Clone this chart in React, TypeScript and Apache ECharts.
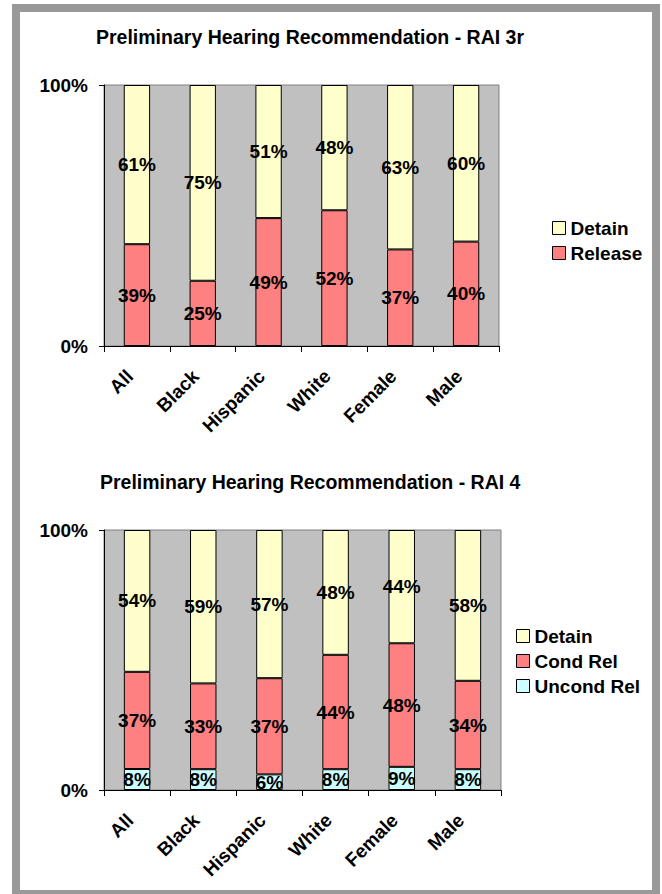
import React, { useEffect, useRef } from "react";
import * as echarts from "echarts";

// Categories shared by both panels
const categories = ["All", "Black", "Hispanic", "White", "Female", "Male"];

// RAI 3r recommendation shares (%)
const rai3Release = [39, 25, 49, 52, 37, 40];
const rai3Detain = [61, 75, 51, 48, 63, 60];

// RAI 4 recommendation shares (%)
const rai4UncondRel = [8, 8, 6, 8, 9, 8];
const rai4CondRel = [37, 33, 37, 44, 48, 34];
const rai4Detain = [54, 59, 57, 48, 44, 58];

const titles = [
  "Preliminary Hearing Recommendation - RAI 3r",
  "Preliminary Hearing Recommendation - RAI 4",
];

const COLORS = {
  detain: "#FFFFCC",
  release: "#FF8080",
  uncond: "#CCFFFF",
};

const FONT = 'Arial, "Liberation Sans", sans-serif';
const FS = 19;

// 100%-stacked: each segment's height is its share of the column total
function toShares(groups: number[][]): number[][] {
  return groups.map((g) =>
    g.map((v, i) => {
      const total = groups.reduce((s, arr) => s + arr[i], 0);
      return (v / total) * 100;
    })
  );
}

function makeSeries(
  name: string,
  raw: number[],
  shares: number[],
  color: string,
  axisIndex: number,
  stack: string
) {
  return {
    name,
    type: "bar",
    stack,
    xAxisIndex: axisIndex,
    yAxisIndex: axisIndex,
    barCategoryGap: "60%",
    data: shares.map((v, i) => ({ value: v, raw: raw[i] })),
    itemStyle: { color, borderColor: "#000", borderWidth: 1 },
    label: {
      show: true,
      position: "inside",
      color: "#000",
      fontWeight: "bold",
      fontSize: FS,
      fontFamily: FONT,
      formatter: (p: any) => `${p.data.raw}%`,
    },
  };
}

export default function App() {
  const ref = useRef<HTMLDivElement>(null);

  useEffect(() => {
    if (!ref.current) return;
    const chart = echarts.init(ref.current, null, { renderer: "svg" });

    const [s3Release, s3Detain] = toShares([rai3Release, rai3Detain]);
    const [s4Uncond, s4Cond, s4Detain] = toShares([
      rai4UncondRel,
      rai4CondRel,
      rai4Detain,
    ]);

    const xAxisBase = {
      type: "category",
      data: categories,
      axisLine: { show: true, lineStyle: { color: "#000", width: 1 } },
      axisTick: { show: true, length: 6, lineStyle: { color: "#000" } },
      axisLabel: {
        interval: 0,
        rotate: 45,
        margin: 20,
        padding: [0, 10, 0, 0],
        color: "#000",
        fontWeight: "bold",
        fontSize: FS,
        fontFamily: FONT,
      },
    };
    const yAxisBase = {
      type: "value",
      min: 0,
      max: 100,
      interval: 100,
      axisLine: { show: true, lineStyle: { color: "#000", width: 1 } },
      axisTick: { show: true, length: 5, lineStyle: { color: "#000" } },
      splitLine: { show: false },
      axisLabel: {
        margin: 16,
        color: "#000",
        fontWeight: "bold",
        fontSize: FS,
        fontFamily: FONT,
        formatter: (v: number) => `${v}%`,
      },
    };
    const gridBase = {
      show: true,
      backgroundColor: "#C0C0C0",
      borderColor: "#808080",
      borderWidth: 1,
      containLabel: false,
    };
    const legendBase = {
      orient: "vertical",
      icon: "rect",
      itemWidth: 13,
      itemHeight: 13,
      itemGap: 6,
      padding: 0,
      itemStyle: { borderColor: "#000", borderWidth: 1 },
      textStyle: {
        color: "#000",
        fontWeight: "bold",
        fontSize: FS,
        fontFamily: FONT,
      },
    };
    const titleText = {
      color: "#000",
      fontWeight: "bold",
      fontSize: 19.5,
      fontFamily: FONT,
    };

    chart.setOption({
      animation: false,
      backgroundColor: "#fff",
      title: [
        { text: titles[0], left: 96, top: 27, padding: 0, textStyle: titleText },
        { text: titles[1], left: 100, top: 472, padding: 0, textStyle: titleText },
      ],
      legend: [
        {
          ...legendBase,
          left: 552,
          top: 218.5,
          data: ["Detain", "Release"],
        },
        {
          ...legendBase,
          left: 516,
          top: 626.5,
          data: ["Detain ", "Cond Rel", "Uncond Rel"],
        },
      ],
      grid: [
        { ...gridBase, left: 104, top: 85, width: 395, height: 261 },
        { ...gridBase, left: 104, top: 530, width: 397, height: 260 },
      ],
      xAxis: [
        { ...xAxisBase, gridIndex: 0 },
        { ...xAxisBase, gridIndex: 1 },
      ],
      yAxis: [
        { ...yAxisBase, gridIndex: 0 },
        { ...yAxisBase, gridIndex: 1 },
      ],
      series: [
        makeSeries("Release", rai3Release, s3Release, COLORS.release, 0, "rai3"),
        makeSeries("Detain", rai3Detain, s3Detain, COLORS.detain, 0, "rai3"),
        makeSeries("Uncond Rel", rai4UncondRel, s4Uncond, COLORS.uncond, 1, "rai4"),
        makeSeries("Cond Rel", rai4CondRel, s4Cond, COLORS.release, 1, "rai4"),
        makeSeries("Detain ", rai4Detain, s4Detain, COLORS.detain, 1, "rai4"),
      ],
      graphic: [
        {
          type: "rect",
          shape: { x: 16, y: 8, width: 640, height: 886 },
          style: { fill: "none", stroke: "#999999", lineWidth: 8 },
          silent: true,
          z: 100,
        },
      ],
    });

    return () => chart.dispose();
  }, []);

  return (
    <div
      ref={ref}
      style={{ position: "fixed", left: 0, top: 0, width: 662, height: 894 }}
    />
  );
}
